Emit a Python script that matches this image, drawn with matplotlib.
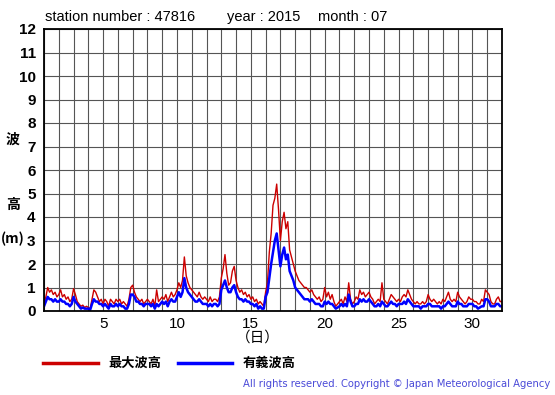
import numpy as np
import matplotlib
matplotlib.use("Agg")
import matplotlib.pyplot as plt

# 3-hourly values, day 1.0 .. 32.0
max_wave = [
    0.3, 0.6, 1.0, 0.8, 0.9, 0.7, 0.8, 0.6,
    0.7, 0.9, 0.6, 0.7, 0.5, 0.6, 0.4, 0.5,
    0.95, 0.7, 0.4, 0.3, 0.2, 0.25, 0.15, 0.2,
    0.15, 0.1, 0.5, 0.9, 0.8, 0.6, 0.4, 0.5,
    0.3, 0.5, 0.4, 0.2, 0.5, 0.4, 0.3, 0.5,
    0.4, 0.5, 0.3, 0.4, 0.3, 0.2, 0.5, 1.0,
    1.1, 0.8, 0.6, 0.5, 0.4, 0.5, 0.3, 0.4,
    0.5, 0.4, 0.3, 0.5, 0.2, 0.9, 0.4, 0.5,
    0.6, 0.5, 0.7, 0.4, 0.6, 0.8, 0.6, 0.7,
    0.9, 1.2, 1.0, 1.3, 2.3, 1.5, 1.2, 1.0,
    0.9, 0.8, 0.7, 0.6, 0.8, 0.6, 0.5, 0.6,
    0.5, 0.4, 0.6, 0.4, 0.5, 0.5, 0.4, 0.6,
    1.4, 1.8, 2.4, 1.6, 1.1, 1.2, 1.7, 1.9,
    1.3, 1.0, 0.8, 0.9, 0.7, 0.8, 0.6, 0.7,
    0.5, 0.6, 0.4, 0.5, 0.3, 0.4, 0.3, 0.2,
    0.8, 1.2, 2.5, 3.3, 4.5, 4.8, 5.4, 4.3,
    3.0, 3.8, 4.2, 3.5, 3.8, 2.6, 2.3, 2.0,
    1.7, 1.5, 1.3, 1.2, 1.1, 1.0, 1.0, 0.9,
    0.8, 0.9, 0.7, 0.6, 0.5, 0.6, 0.4, 0.5,
    1.0, 0.6, 0.8, 0.5, 0.7, 0.4, 0.2, 0.3,
    0.4, 0.5, 0.3, 0.6, 0.4, 1.2, 0.5, 0.3,
    0.4, 0.6, 0.5, 0.9, 0.7, 0.8, 0.6, 0.7,
    0.8, 0.6, 0.5, 0.3, 0.4, 0.5, 0.4, 1.2,
    0.5, 0.4, 0.3, 0.5, 0.7, 0.6, 0.5, 0.4,
    0.5, 0.4, 0.6, 0.7, 0.6, 0.9, 0.7, 0.5,
    0.4, 0.3, 0.4, 0.3, 0.3, 0.4, 0.3, 0.4,
    0.7, 0.5, 0.4, 0.5, 0.4, 0.3, 0.4, 0.3,
    0.5, 0.4, 0.6, 0.8, 0.5, 0.4, 0.5, 0.4,
    0.8, 0.6, 0.5, 0.4, 0.3, 0.4, 0.6, 0.5,
    0.5, 0.4, 0.4, 0.3, 0.3, 0.5, 0.4, 0.9,
    0.8, 0.7, 0.4, 0.3, 0.3, 0.5, 0.6, 0.4,
    0.4,
]
sig_wave = [
    0.2, 0.4, 0.6, 0.5, 0.5, 0.4, 0.5, 0.4,
    0.4, 0.5, 0.4, 0.4, 0.3, 0.3, 0.2, 0.3,
    0.6, 0.4, 0.3, 0.2, 0.1, 0.15, 0.1, 0.1,
    0.1, 0.05, 0.3, 0.5, 0.4, 0.4, 0.3, 0.3,
    0.2, 0.3, 0.2, 0.1, 0.3, 0.2, 0.2, 0.3,
    0.2, 0.3, 0.2, 0.2, 0.1, 0.1, 0.3, 0.7,
    0.7, 0.6, 0.4, 0.4, 0.3, 0.3, 0.2, 0.3,
    0.3, 0.3, 0.2, 0.3, 0.1, 0.3, 0.2, 0.3,
    0.4, 0.3, 0.4, 0.2, 0.4, 0.5, 0.4, 0.4,
    0.6, 0.8, 0.6, 0.8, 1.4, 1.0, 0.8, 0.7,
    0.6, 0.5, 0.4, 0.4, 0.5, 0.4, 0.3, 0.3,
    0.3, 0.2, 0.3, 0.2, 0.3, 0.3, 0.2, 0.3,
    0.9, 1.1, 1.3, 1.0, 0.8, 0.8, 1.0, 1.1,
    0.8, 0.6, 0.5, 0.5, 0.4, 0.5, 0.4, 0.4,
    0.3, 0.3, 0.2, 0.3, 0.1, 0.2, 0.1, 0.1,
    0.6, 0.8, 1.4, 2.0, 2.5, 3.0, 3.3, 2.6,
    1.9, 2.4, 2.7, 2.2, 2.4, 1.7, 1.5, 1.3,
    1.0, 0.9, 0.8, 0.7, 0.6, 0.5, 0.5, 0.5,
    0.4, 0.5, 0.4, 0.3, 0.3, 0.3, 0.2, 0.2,
    0.4, 0.3, 0.4, 0.3, 0.3, 0.2, 0.1, 0.15,
    0.2, 0.3, 0.2, 0.3, 0.2, 0.7, 0.4, 0.2,
    0.2, 0.3, 0.3, 0.5, 0.4, 0.5, 0.4, 0.4,
    0.5, 0.4, 0.3, 0.2, 0.2, 0.3, 0.2, 0.4,
    0.3, 0.2, 0.2, 0.3, 0.4, 0.3, 0.3, 0.2,
    0.3, 0.3, 0.3, 0.4, 0.3, 0.5, 0.4, 0.3,
    0.2, 0.2, 0.2, 0.2, 0.1, 0.2, 0.2, 0.2,
    0.3, 0.3, 0.2, 0.2, 0.2, 0.2, 0.2, 0.1,
    0.2, 0.2, 0.3, 0.4, 0.3, 0.2, 0.2, 0.2,
    0.4, 0.3, 0.3, 0.2, 0.2, 0.2, 0.3, 0.3,
    0.3, 0.2, 0.2, 0.1, 0.15, 0.2, 0.2, 0.5,
    0.5, 0.4, 0.2, 0.2, 0.2, 0.3, 0.3, 0.2,
    0.2,
]
days = 1 + np.arange(len(max_wave)) / 8.0

station = "47816"
year = "2015"
month = "07"

plt.rcParams['font.family'] = ['Liberation Sans', 'Noto Sans CJK JP', 'DejaVu Sans']
cjk = ['Noto Sans CJK JP', 'DejaVu Sans']

fig = plt.figure(figsize=(5.55, 3.95), dpi=100)
ax = fig.add_axes([44/555, 84/395, 458/555, 282/395])

ax.plot(days, max_wave, color='#cc0000', lw=1.0)
ax.plot(days, sig_wave, color='#0000ff', lw=1.8)

ax.set_xlim(1, 32)
ax.set_ylim(0, 12)
ax.set_xticks(np.arange(1, 33), minor=True)
ax.set_xticks([5, 10, 15, 20, 25, 30])
ax.set_yticks(np.arange(0, 13))
ax.grid(True, which='both', color='#555555', lw=0.8)
ax.tick_params(which='both', length=0)
ax.tick_params(axis='x', labelsize=11, pad=4)
ax.tick_params(axis='y', pad=6)
for lab in ax.get_yticklabels():
    lab.set_fontweight('bold')
    lab.set_fontsize(11)
for s in ax.spines.values():
    s.set_linewidth(1.3)

fig.text(45/555, 1 - 21/395, "station number : " + station, fontsize=10.5)
fig.text(227/555, 1 - 21/395, "year : " + year, fontsize=10.5)
fig.text(318/555, 1 - 21/395, "month : " + month, fontsize=10.5)

fig.text(13/555, 1 - 140/395, "波", family=cjk, fontsize=10, fontweight='bold', ha='center', va='center')
fig.text(13/555, 1 - 205/395, "高", family=cjk, fontsize=10, fontweight='bold', ha='center', va='center')
fig.text(13/555, 1 - 239/395, "(m)", family=cjk, fontsize=10, fontweight='bold', ha='center', va='center')
fig.text(258/555, 1 - 338/395, "（日）", family=cjk, fontsize=10.5, ha='center', va='center')

fig.add_artist(plt.Line2D([43/555, 98/555], [1 - 363/395] * 2, color='#cc0000', lw=2.5))
fig.text(108/555, 1 - 363/395, "最大波高", family=cjk, fontsize=9.5, fontweight='bold', va='center')
fig.add_artist(plt.Line2D([178/555, 232/555], [1 - 363/395] * 2, color='#0000ff', lw=2.5))
fig.text(243/555, 1 - 363/395, "有義波高", family=cjk, fontsize=9.5, fontweight='bold', va='center')

fig.text(550/555, 1 - 384/395, "All rights reserved. Copyright © Japan Meteorological Agency",
         family=['DejaVu Sans'], fontsize=7.2, color='#4a4ad8', ha='right', va='center')

fig.savefig("out.png", dpi=100)
